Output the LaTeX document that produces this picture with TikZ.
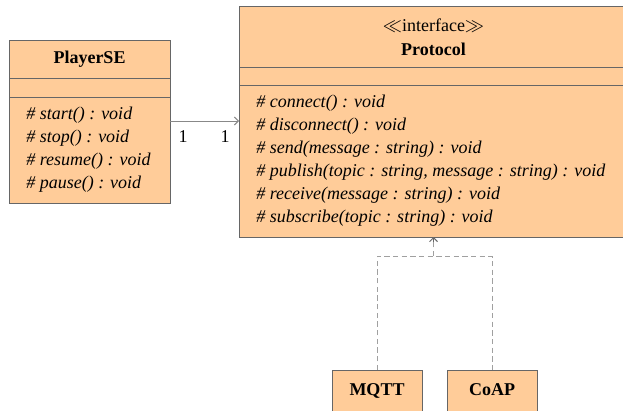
\documentclass[tikz,border=0pt]{standalone}
\usepackage{fontspec}
\setmainfont{Liberation Serif}
\usetikzlibrary{arrows.meta,positioning,calc}
\definecolor{umlfill}{HTML}{FFCC99}
\definecolor{umlline}{HTML}{666666}
\definecolor{linkgray}{HTML}{888888}

\begin{document}
\begin{tikzpicture}[x=0.75pt,y=-0.75pt,
   font=\fontsize{13.5}{16}\selectfont,
   part/.style={rectangle,draw=umlline,fill=umlfill,line width=0.75pt,inner sep=0pt,outer sep=0pt,anchor=north west},
   op/.style={anchor=base west,inner sep=0pt,font=\fontsize{13.5}{16}\selectfont\itshape},
   assoc/.style={draw=linkgray,line width=0.75pt,-{Straight Barb[length=3pt,width=6pt]}},
   realize/.style={draw=linkgray!80,line width=0.75pt,dash pattern=on 4pt off 2.5pt}]
   \useasboundingbox (0,0) rectangle (623,410);
   \clip (0,0) rectangle (623,410);

   % PlayerSE
   \node (pse-name) [part,minimum width=120.75pt,minimum height=27.75pt] at (9,41) {\textbf{PlayerSE}};
   \node (pse-attr) [part,minimum width=120.75pt,minimum height=14.25pt] at (pse-name.south west) {};
   \node (pse-ops)  [part,minimum width=120.75pt,minimum height=79.5pt] at (pse-attr.south west) {};
   \path (26,119) node (pse-m1) [op] {\# start() : void}
         (26,142) node (pse-m2) [op] {\# stop() : void}
         (26,165) node (pse-m3) [op] {\# resume() : void}
         (26,188) node (pse-m4) [op] {\# pause() : void};

   % Protocol
   \node (proto-name) [part,minimum width=291.75pt,minimum height=45pt,align=center,
          font=\fontsize{13.5}{18}\selectfont] at (239,7) {$\ll$interface$\gg$\\\textbf{Protocol}};
   \node (proto-attr) [part,minimum width=291.75pt,minimum height=13.5pt] at (proto-name.south west) {};
   \node (proto-ops)  [part,minimum width=291.75pt,minimum height=114pt] at (proto-attr.south west) {};
   \path (256,107)   node (proto-m1) [op] {\# connect() : void}
         (256,130)   node (proto-m2) [op] {\# disconnect() : void}
         (256,153)   node (proto-m3) [op] {\# send(message : string) : void}
         (256,176.5) node (proto-m4) [op] {\# publish(topic : string, message : string) : void}
         (256,199.5) node (proto-m5) [op] {\# receive(message : string) : void}
         (256,222.5) node (proto-m6) [op] {\# subscribe(topic : string) : void};

   % MQTT, CoAP
   \node (mqtt) [part,minimum width=67.5pt,minimum height=33pt] at (332,370) {};
   \node (coap) [part,minimum width=67.5pt,minimum height=33pt] at (447,370) {};
   \node (mqtt-t) [anchor=base] at ($(mqtt.north)+(0,25)$) {\textbf{MQTT}};
   \node (coap-t) [anchor=base] at ($(coap.north)+(0,25)$) {\textbf{CoAP}};

   % links
   \draw [assoc] ([yshift=-18pt]pse-ops.north east) -- ([yshift=-18pt]pse-ops.north east -| proto-ops.west)
         node [pos=0.19,below=6.75pt,inner sep=0pt,anchor=north] (mult-a) {1}
         node [pos=0.8,below=6.75pt,inner sep=0pt,anchor=north] (mult-b) {1};
   \coordinate (join) at (proto-ops.south |- 0,256);
   \draw [realize] (mqtt.north) |- (join) -| (coap.north);
   \draw [realize] (join) -- (proto-ops.south);
   \draw [umlline,line width=0.75pt,-{Straight Barb[length=3pt,width=6pt]}] ([yshift=-4pt]proto-ops.south) -- (proto-ops.south);
\end{tikzpicture}
\end{document}
